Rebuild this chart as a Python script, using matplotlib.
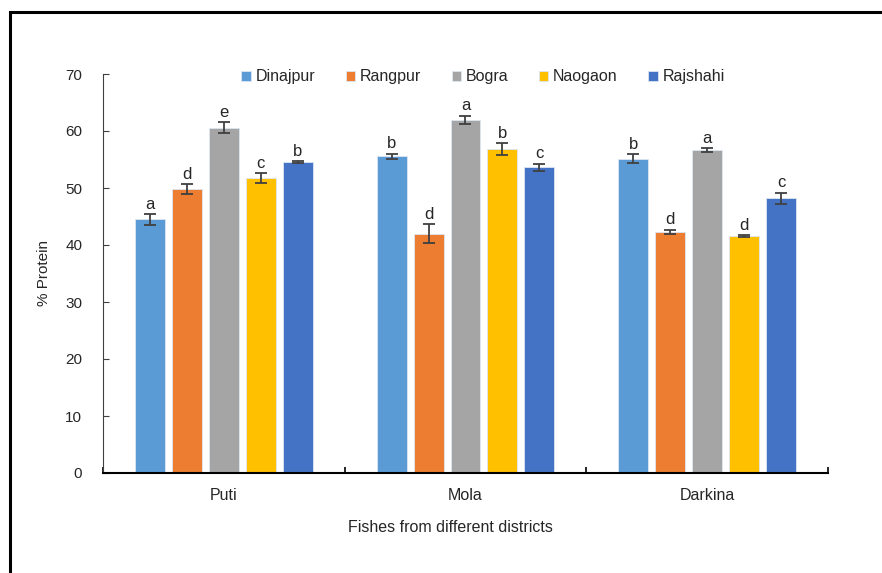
import numpy as np
import matplotlib
matplotlib.use("Agg")
import matplotlib.pyplot as plt
from matplotlib.patches import Rectangle

plt.rcParams['font.family'] = ['Liberation Sans', 'DejaVu Sans']

fishes = ["Puti", "Mola", "Darkina"]
districts = ["Dinajpur", "Rangpur", "Bogra", "Naogaon", "Rajshahi"]
colors = ["#5B9BD5", "#ED7D31", "#A5A5A5", "#FFC000", "#4472C4"]

# protein (%) per district, one value per fish
dinajpur = [44.5, 55.6, 55.1]
rangpur = [49.8, 42.0, 42.3]
bogra = [60.6, 62.0, 56.7]
naogaon = [51.7, 56.8, 41.6]
rajshahi = [54.6, 53.6, 48.2]

dinajpur_err = [0.95, 0.45, 0.8]
rangpur_err = [0.9, 1.7, 0.4]
bogra_err = [0.95, 0.7, 0.3]
naogaon_err = [0.9, 1.05, 0.15]
rajshahi_err = [0.15, 0.65, 1.0]

dinajpur_sig = ["a", "b", "b"]
rangpur_sig = ["d", "d", "d"]
bogra_sig = ["e", "a", "a"]
naogaon_sig = ["c", "b", "d"]
rajshahi_sig = ["b", "c", "c"]

values = [dinajpur, rangpur, bogra, naogaon, rajshahi]
errors = [dinajpur_err, rangpur_err, bogra_err, naogaon_err, rajshahi_err]
letters = [dinajpur_sig, rangpur_sig, bogra_sig, naogaon_sig, rajshahi_sig]

fig = plt.figure(figsize=(8.82, 5.73), dpi=100)
ax = fig.add_axes([103/882, 1-473/573, 725/882, 399/573])

x = np.arange(len(fishes))
width = 0.124
step = 0.153
for i, (name, vals, errs, sig, c) in enumerate(zip(districts, values, errors, letters, colors)):
    pos = x + (i - 2) * step
    ax.bar(pos, vals, width, color=c, edgecolor="#DCE6F2", linewidth=0.6, label=name, zorder=2)
    ax.errorbar(pos, vals, yerr=errs, fmt="none", ecolor="#404040", elinewidth=1.3,
                capsize=4, capthick=1.3, zorder=3)
    for p, v, e, s in zip(pos, vals, errs, sig):
        ax.text(p, v + e + 0.4, s, ha="center", va="bottom", fontsize=12, color="#262626")

ax.set_xlim(-0.5, 2.5)
ax.set_ylim(0, 70)
ax.set_yticks(np.arange(0, 71, 10))
ax.set_xticks(x)
ax.set_xticklabels(fishes)
ax.set_xticks([-0.5, 0.5, 1.5, 2.5], minor=True)
ax.tick_params(axis="x", which="major", length=0, pad=11, labelsize=11.5, labelcolor="#262626")
ax.tick_params(axis="x", which="minor", direction="in", length=4, width=1.2, color="#000000")
ax.tick_params(axis="y", direction="in", length=4, width=0.8, color="#404040",
               pad=15, labelsize=11, labelcolor="#262626")

for side in ["top", "right"]:
    ax.spines[side].set_visible(False)
ax.spines["left"].set_color("#404040")
ax.spines["left"].set_linewidth(0.8)
ax.spines["bottom"].set_color("#000000")
ax.spines["bottom"].set_linewidth(1.5)

ax.set_ylabel("% Protein", fontsize=11, color="#262626", labelpad=10)
fig.text(450/882, 1-528/573, "Fishes from different districts", ha="center", va="center",
         fontsize=11.5, color="#262626")

fig.legend(loc="center", bbox_to_anchor=(483/882, 1-77/573), ncol=5, frameon=False,
           handlelength=0.6, handleheight=0.6, handletextpad=0.3, columnspacing=1.9,
           fontsize=11.5, labelcolor="#262626")

fig.patches.append(Rectangle((10/882, -0.2), 2.0, 1.2 - 12/573, transform=fig.transFigure,
                             fill=False, edgecolor="black", linewidth=2.2))

fig.savefig("out.png", dpi=100)
